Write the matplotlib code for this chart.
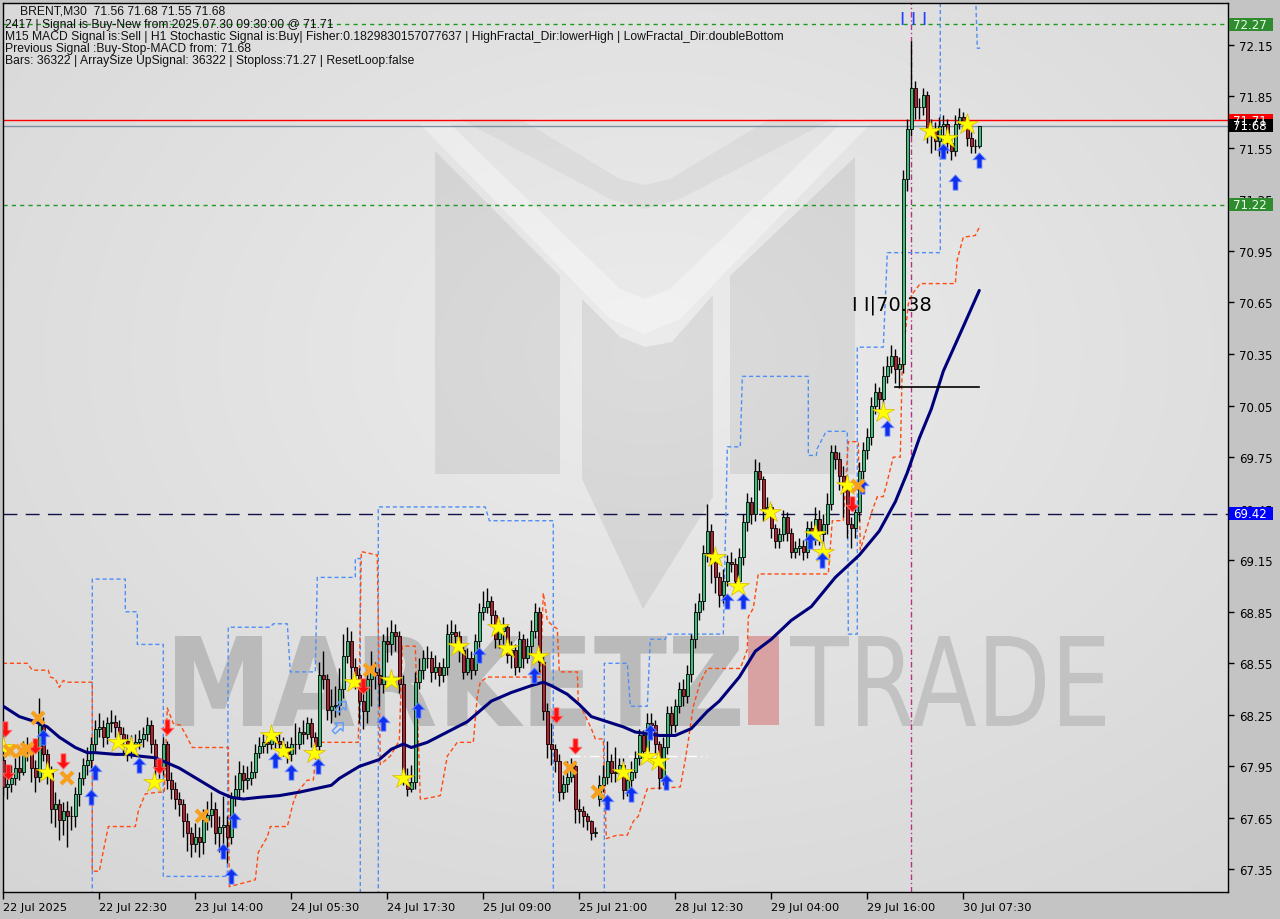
import numpy as np
import matplotlib
matplotlib.use('Agg')
import matplotlib.pyplot as plt
from matplotlib import transforms
from matplotlib.patches import Polygon, Rectangle, PathPatch
from matplotlib.path import Path
from matplotlib.textpath import TextPath
from matplotlib.font_manager import FontProperties

# ---------------- data (BRENT M30) ----------------
first_open = 67.99
gap_open = {149: 67.76}
closes = [
67.83, 67.85, 67.88, 67.94, 67.92, 68.05, 68.04, 67.94, 67.89, 68.19,
68.02, 67.91, 67.70, 67.73, 67.64, 67.69, 67.66, 67.66, 67.79, 67.88,
67.96, 67.99, 68.08, 68.17, 68.18, 68.12, 68.20, 68.21, 68.18, 68.14,
68.10, 68.06, 68.08, 68.09, 68.11, 68.14, 68.19, 68.08, 67.95, 67.94,
68.08, 67.87, 67.82, 67.76, 67.73, 67.63, 67.56, 67.50, 67.54, 67.51,
67.64, 67.67, 67.70, 67.56, 67.60, 67.61, 67.54, 67.77, 67.82, 67.91,
67.87, 67.88, 67.92, 68.03, 68.07, 68.09, 68.08, 68.12, 68.10, 68.08,
68.06, 68.02, 68.08, 68.08, 68.15, 68.14, 68.20, 68.12, 68.07, 68.48,
68.46, 68.28, 68.30, 68.31, 68.40, 68.59, 68.68, 68.53, 68.48, 68.33,
68.27, 68.46, 68.50, 68.48, 68.43, 68.68, 68.66, 68.73, 68.71, 68.43,
67.86, 67.82, 67.86, 68.44, 68.51, 68.58, 68.58, 68.50, 68.53, 68.48,
68.53, 68.72, 68.73, 68.71, 68.63, 68.50, 68.58, 68.51, 68.68, 68.85,
68.88, 68.91, 68.83, 68.69, 68.74, 68.76, 68.60, 68.63, 68.53, 68.69,
68.58, 68.65, 68.74, 68.85, 68.56, 68.27, 68.08, 68.05, 67.98, 67.80,
67.85, 67.89, 67.95, 67.70, 67.69, 67.66, 67.63, 67.56, 67.57, 67.84,
67.89, 67.98, 67.91, 67.92, 67.96, 67.81, 67.87, 67.92, 68.00, 68.13,
68.04, 68.20, 68.19, 68.08, 67.88, 68.06, 68.26, 68.19, 68.30, 68.40,
68.36, 68.49, 68.69, 68.85, 68.91, 69.19, 69.32, 69.14, 69.05, 68.95,
69.03, 69.14, 69.13, 69.03, 69.17, 69.37, 69.49, 69.42, 69.67, 69.62,
69.44, 69.46, 69.34, 69.26, 69.30, 69.40, 69.31, 69.20, 69.22, 69.23,
69.20, 69.34, 69.27, 69.39, 69.30, 69.36, 69.48, 69.78, 69.74, 69.64,
69.56, 69.36, 69.34, 69.43, 69.67, 69.79, 69.87, 70.05, 70.13, 70.09,
70.22, 70.28, 70.34, 70.26, 70.29, 71.37, 71.66, 71.90, 71.79, 71.79,
71.86, 71.63, 71.66, 71.59, 71.68, 71.69, 71.58, 71.53, 71.69, 71.73,
71.70, 71.61, 71.56, 71.56, 71.68]
highs = [
68.02, 67.95, 67.96, 68.00, 68.04, 68.10, 68.12, 68.06, 67.99, 68.35,
68.24, 68.05, 67.95, 67.80, 67.76, 67.74, 67.75, 67.72, 67.83, 67.92,
68.00, 68.06, 68.12, 68.22, 68.26, 68.22, 68.24, 68.28, 68.25, 68.22,
68.18, 68.14, 68.13, 68.14, 68.16, 68.18, 68.24, 68.22, 68.11, 68.00,
68.12, 68.10, 67.92, 67.86, 67.80, 67.76, 67.68, 67.60, 67.62, 67.60,
67.70, 67.75, 67.80, 67.74, 67.66, 67.78, 67.66, 67.80, 67.90, 67.98,
67.96, 67.95, 67.98, 68.08, 68.12, 68.14, 68.13, 68.16, 68.15, 68.14,
68.12, 68.10, 68.12, 68.20, 68.18, 68.22, 68.24, 68.23, 68.15, 68.56,
68.62, 68.49, 68.40, 68.42, 68.52, 68.72, 68.76, 68.74, 68.58, 68.52,
68.38, 68.52, 68.62, 68.56, 68.52, 68.72, 68.76, 68.80, 68.78, 68.74,
68.48, 67.94, 67.96, 68.50, 68.58, 68.63, 68.65, 68.62, 68.60, 68.56,
68.58, 68.78, 68.80, 68.78, 68.74, 68.66, 68.64, 68.62, 68.72, 68.90,
68.97, 68.99, 68.94, 68.86, 68.80, 68.82, 68.78, 68.68, 68.66, 68.74,
68.72, 68.70, 68.80, 68.90, 68.88, 68.60, 68.32, 68.20, 68.08, 68.02,
67.90, 67.98, 68.00, 67.98, 67.76, 67.72, 67.68, 67.64, 67.60, 67.90,
67.96, 68.10, 68.02, 68.06, 68.00, 68.00, 67.92, 67.98, 68.04, 68.17,
68.16, 68.26, 68.26, 68.22, 68.10, 68.12, 68.30, 68.30, 68.34, 68.44,
68.46, 68.54, 68.72, 68.90, 68.96, 69.24, 69.48, 69.36, 69.18, 69.08,
69.10, 69.18, 69.20, 69.16, 69.22, 69.42, 69.54, 69.52, 69.74, 69.72,
69.64, 69.52, 69.48, 69.36, 69.34, 69.44, 69.43, 69.34, 69.26, 69.28,
69.27, 69.38, 69.38, 69.46, 69.44, 69.42, 69.54, 69.82, 69.82, 69.78,
69.70, 69.60, 69.40, 69.48, 69.72, 69.84, 69.92, 70.10, 70.18, 70.16,
70.28, 70.34, 70.40, 70.38, 70.33, 71.42, 71.72, 72.17, 71.94, 71.84,
71.90, 71.88, 71.72, 71.70, 71.73, 71.74, 71.72, 71.62, 71.74, 71.78,
71.76, 71.72, 71.64, 71.60, 71.68]
lows = [
67.78, 67.76, 67.80, 67.84, 67.87, 67.90, 67.98, 67.86, 67.80, 67.86,
67.98, 67.85, 67.62, 67.60, 67.52, 67.55, 67.48, 67.58, 67.60, 67.72,
67.84, 67.90, 67.94, 68.04, 68.12, 68.06, 68.08, 68.15, 68.12, 68.08,
68.03, 67.98, 68.00, 68.02, 68.05, 68.06, 68.10, 68.03, 67.90, 67.88,
67.90, 67.82, 67.76, 67.70, 67.66, 67.54, 67.46, 67.42, 67.45, 67.42,
67.44, 67.58, 67.60, 67.50, 67.45, 67.50, 67.39, 67.50, 67.72, 67.76,
67.80, 67.82, 67.84, 67.88, 68.00, 68.03, 68.03, 68.05, 68.05, 68.04,
68.01, 67.97, 67.98, 68.02, 68.05, 68.08, 68.11, 68.06, 68.01, 68.04,
68.40, 68.22, 68.20, 68.24, 68.25, 68.35, 68.55, 68.45, 68.40, 68.20,
68.17, 68.20, 68.30, 68.40, 68.30, 68.38, 68.56, 68.60, 68.62, 68.38,
67.84, 67.78, 67.80, 67.82, 68.40, 68.46, 68.52, 68.44, 68.46, 68.42,
68.44, 68.48, 68.66, 68.64, 68.56, 68.46, 68.48, 68.46, 68.48, 68.64,
68.80, 68.84, 68.78, 68.64, 68.64, 68.66, 68.55, 68.52, 68.48, 68.50,
68.52, 68.55, 68.60, 68.70, 68.50, 68.22, 68.00, 67.96, 67.92, 67.75,
67.76, 67.80, 67.86, 67.62, 67.62, 67.60, 67.58, 67.52, 67.54, 67.72,
67.80, 67.85, 67.86, 67.86, 67.88, 67.76, 67.78, 67.80, 67.88, 67.96,
68.00, 68.00, 68.14, 68.02, 67.82, 67.84, 68.02, 68.14, 68.15, 68.26,
68.30, 68.32, 68.44, 68.64, 68.80, 68.86, 69.14, 69.02, 68.96, 68.88,
68.90, 69.00, 69.08, 68.98, 69.00, 69.12, 69.32, 69.36, 69.38, 69.56,
69.38, 69.40, 69.28, 69.22, 69.22, 69.26, 69.26, 69.16, 69.16, 69.18,
69.15, 69.16, 69.22, 69.24, 69.24, 69.18, 69.30, 69.44, 69.68, 69.56,
69.40, 69.28, 69.22, 69.28, 69.38, 69.62, 69.74, 69.82, 70.00, 70.02,
70.06, 70.18, 70.24, 70.18, 70.15, 70.24, 71.30, 71.62, 71.72, 71.72,
71.74, 71.58, 71.52, 71.54, 71.50, 71.58, 71.52, 71.48, 71.50, 71.66,
71.65, 71.56, 71.52, 71.52, 71.55]

# moving average (read points: bar index, price)
ma_bar = [0,4,8,11,14,18,21,23,28,31,34,38,39,41,44,49,54,57,60,64,69,74,78,82,84,89,94,97,100,102,
          106,111,116,119,122,127,132,135,137,141,144,147,151,155,158,161,164,168,172,176,179,184,188,192,
          197,202,208,214,219,223,226,229,232,235,240,244]
ma_val = [68.30,68.24,68.21,68.18,68.12,68.06,68.03,68.03,68.02,68.02,68.01,68.00,67.99,67.97,67.94,67.87,
          67.80,67.77,67.76,67.77,67.78,67.80,67.82,67.84,67.88,67.95,67.99,68.05,68.08,68.06,68.09,68.15,
          68.21,68.27,68.33,68.38,68.42,68.44,68.42,68.37,68.31,68.24,68.21,68.18,68.15,68.14,68.13,68.13,
          68.17,68.27,68.33,68.47,68.62,68.69,68.80,68.88,69.05,69.18,69.32,69.49,69.66,69.86,70.03,70.25,
          70.51,70.72]

nan = float('nan')
upper_bar = [22.25,22.25,30.5,30.5,33.5,33.5,40,40,56,56.25,66.75,67.5,71,71.75,78,78.5,88,88,89.25,89.25,nan,
             93.75,93.75,120.5,121.5,137.5,137.5,nan,
             150.25,150.25,156,156.75,161,161.75,165.5,166,180,181,184.25,184.75,201.25,201.25,203.25,203.5,
             205.5,206,211,211.25,213.5,213.5,220,221,234.25,234.25,nan,
             243.0,243.5,244.2]
upper_val = [67.2,69.04,69.04,68.85,68.85,68.66,68.66,67.31,67.31,68.76,68.76,68.78,68.78,68.50,68.50,69.05,69.05,69.16,69.16,67.2,nan,
             67.2,69.46,69.46,69.38,69.38,67.2,nan,
             67.2,68.55,68.55,68.30,68.30,68.69,68.69,68.72,68.72,69.81,69.81,70.22,70.22,69.76,69.76,69.80,
             69.89,69.90,69.90,68.72,68.72,70.39,70.39,70.94,70.94,72.5,nan,
             72.5,72.13,72.13]

lower_bar = [-0.1,6,7.25,11.25,11.75,13,14,15,16,22.25,22.25,24,24.5,26.25,33,33.75,35.5,38.75,40.25,41,
             42.5,44.25,45.5,47.25,56.25,56.5,63,63.75,66,66.75,71,72.5,73.5,76,77.5,78.5,88.75,89.5,93.5,94.25,
             96.75,99,99.75,103,104.25,105,109.25,111,113.5,117.5,118.5,119.25,121,134.25,135,136,137.25,138.5,139,143.5,
             143.75,147,148,150,150.75,153.5,156,157.5,158.75,160,161,169.25,170.5,171.25,172.5,174.25,176,184.25,186,186.25,
             187.5,188.75,206.25,207.25,210,211.25,213.75,214.25,215.5,217.25,218.5,220,221,222.5,224.25,224.75,226.25,227.25,
             229.25,238,238.5,240,243,244.25]
lower_val = [68.55,68.55,68.51,68.51,68.47,68.46,68.41,68.45,68.44,68.44,67.34,67.34,67.40,67.60,67.60,67.69,67.79,67.80,67.80,68.29,
             68.20,68.19,68.14,68.06,68.06,67.25,67.29,67.45,67.54,67.60,67.60,67.74,67.80,67.87,67.87,68.09,68.09,69.20,69.18,67.96,
             68.01,68.10,68.65,68.65,67.76,67.76,67.78,68.01,68.09,68.09,68.36,68.44,68.47,68.47,68.96,68.80,68.77,68.75,68.50,68.50,
             68.33,68.17,68.11,68.11,67.53,67.55,67.55,67.63,67.66,67.75,67.82,67.83,67.99,68.10,68.30,68.44,68.52,68.52,68.63,68.82,
             68.87,69.07,69.07,69.38,69.38,69.84,69.84,69.21,69.31,69.44,69.52,69.52,69.61,69.75,69.75,70.30,70.64,70.70,
             70.76,70.76,70.90,71.03,71.04,71.10]

# signal markers (bar index, price)
star_bar = [0,10.9,28.7,31.9,37.7,66.9,69.9,77.7,87.7,96.9,99.9,113.7,123.7,125.9,133.7,154.9,160.9,163.7,
            177.9,183.7,191.7,202.9,204.9,210.9,219.9,231.7,235.9,240.9]
star_val = [68.06,67.92,68.09,68.06,67.86,68.13,68.04,68.03,68.44,68.45,67.88,68.65,68.76,68.64,68.59,67.92,68.01,67.98,
            69.17,69.00,69.43,69.30,69.20,69.59,70.01,71.65,71.61,71.69]
buy_bar = [9.9,22.9,21.9,33.9,54.9,57.7,56.9,67.9,71.9,78.7,94.9,103.7,118.9,132.7,150.9,156.9,161.7,165.7,
           180.9,184.9,201.7,204.7,214.7,220.9,234.9,237.9,243.9]
buy_val = [68.12,67.92,67.77,67.96,67.46,67.64,67.31,67.99,67.92,67.95,68.20,68.28,68.60,68.48,67.74,67.79,68.15,67.86,
           68.91,68.91,69.26,69.15,69.58,69.92,71.53,71.35,71.48]
sell_bar = [0.4,1.2,7.9,14.9,38.9,40.9,89.9,138.2,142.9,212.2]
sell_val = [68.17,67.92,68.07,67.98,67.95,68.18,68.42,68.25,68.07,69.48]
cross_bar = [1.7,4.7,5.9,8.7,15.9,49.7,91.7,141.7,148.7,213.7]
cross_val = [68.04,68.04,68.05,68.23,67.88,67.66,68.51,67.94,67.80,69.58]
hollow_bar = [84.4,83.7]
hollow_val = [68.30,68.18]

# levels
tp_level, sl_level = 72.27, 71.22
signal_level, bid_level, base_level = 71.71, 71.68, 69.42
entry_level = 70.16
signal_bar = 227

y_ticks = [67.35, 67.65, 67.95, 68.25, 68.55, 68.85, 69.15, 69.45, 69.75, 70.05, 70.35, 70.65, 70.95, 71.25, 71.55, 71.85, 72.15]
x_tick_bars = [0, 24, 48, 72, 96, 120, 144, 168, 192, 216, 240]
x_tick_labels = ['22 Jul 2025', '22 Jul 22:30', '23 Jul 14:00', '24 Jul 05:30', '24 Jul 17:30', '25 Jul 09:00',
                 '25 Jul 21:00', '28 Jul 12:30', '29 Jul 04:00', '29 Jul 16:00', '30 Jul 07:30']

header = ['BRENT,M30  71.56 71.68 71.55 71.68',
          '2417 | Signal is Buy-New from:2025.07.30 09:30:00 @ 71.71',
          'M15 MACD Signal is:Sell | H1 Stochastic Signal is:Buy| Fisher:0.1829830157077637 | HighFractal_Dir:lowerHigh | LowFractal_Dir:doubleBottom',
          'Previous Signal :Buy-Stop-MACD from: 71.68',
          'Bars: 36322 | ArraySize UpSignal: 36322 | Stoploss:71.27 | ResetLoop:false']

# ---------------- figure ----------------
plt.rcParams['font.family'] = ['DejaVu Sans']
W, H = 1280, 920
fig = plt.figure(figsize=(12.8, 9.2), dpi=100, facecolor='#c4c4c4')
L_, R_, T_, B_ = 3, 1228, 4, 893
ax = fig.add_axes([L_ / W, 1 - B_ / H, (R_ - L_) / W, (B_ - T_) / H])
PX = transforms.Affine2D().scale(1 / W, -1 / H).translate(0, 1) + fig.transFigure

XMIN, XMAX = -0.075, 306.175
YMIN, YMAX = 67.219, 72.393

# background gradient
gy, gx = np.mgrid[0:90, 0:122]
d = np.sqrt(((gx - 64) / 122.0) ** 2 + ((gy - 35) / 90.0) ** 2)
g = 0.925 - 0.11 * d
bg = np.dstack([g, g, g])
ax.imshow(bg, extent=(XMIN, XMAX, YMIN, YMAX), aspect='auto', zorder=0, interpolation='bilinear')

# watermark logo (subtle)
def add_px_poly(pts, color, alpha, z=0.5):
    ax.add_patch(Polygon(pts, closed=True, transform=PX, fc=color, alpha=alpha, ec='none', zorder=z))

add_px_poly([(435, 152), (560, 277), (560, 475), (435, 475)], 'black', 0.065)
add_px_poly([(855, 158), (730, 277), (730, 475), (855, 475)], 'black', 0.065)
add_px_poly([(582, 300), (620, 338), (645, 348), (672, 343), (713, 296), (713, 498), (643, 610), (582, 480)], 'black', 0.065)
add_px_poly([(460, 120), (520, 120), (620, 180), (645, 186), (670, 180), (770, 120), (833, 120),
             (680, 200), (645, 210), (610, 200)], 'black', 0.04)
add_px_poly([(420, 125), (450, 125), (620, 290), (645, 300), (670, 290), (840, 125), (870, 125),
             (680, 320), (645, 335), (610, 320)], 'white', 0.35)

def text_in_box(s, x0, x1, y0, y1, color, weight='bold', z=0.6):
    tp = TextPath((0, 0), s, size=100, prop=FontProperties(family='DejaVu Sans', weight=weight))
    ext = tp.get_extents()
    tr = (transforms.Affine2D().translate(-ext.x0, -ext.y0)
          .scale((x1 - x0) / ext.width, -(y1 - y0) / ext.height).translate(x0, y1) + PX)
    ax.add_patch(PathPatch(tp, transform=tr, fc=color, ec='none', zorder=z))

text_in_box('MARKETZ', 175, 740, 637, 727, '#bababa')
add_px_poly([(748, 637), (779, 637), (779, 726), (748, 726)], '#d9a2a2', 1.0)
text_in_box('TRADE', 790, 1105, 637, 727, '#c2c2c2', weight='normal')

# channel lines
ax.plot(upper_bar, upper_val, color='#4f8ff5', lw=1, dashes=(3, 2), zorder=2.5)
ax.plot(lower_bar, lower_val, color='#ff4a10', lw=1, dashes=(3, 2), zorder=2.5)
ax.plot([141.7, 176], [68.01, 68.01], color='white', lw=1, dashes=(7, 3, 1, 3), zorder=2.5)

# candles
c = np.array(closes)
o = np.r_[first_open, c[:-1]]
for k, v in gap_open.items():
    o[k] = v
hi = np.array(highs)
lo = np.array(lows)
idx = np.arange(len(c))
up = c >= o
ax.vlines(idx, lo, hi, color='black', lw=1, zorder=3)
ax.bar(idx[up], (c - o)[up], bottom=o[up], width=0.72, color='#3cbf7a', edgecolor='black', linewidth=0.6, zorder=4)
ax.bar(idx[~up], (c - o)[~up], bottom=o[~up], width=0.72, color='#b5202e', edgecolor='black', linewidth=0.6, zorder=4)

# moving average
ax.plot(ma_bar, ma_val, color='#00007a', lw=2.2, zorder=5, solid_capstyle='round')

# levels
ax.axhline(tp_level, color='#1f9a1f', lw=1, dashes=(3, 3), zorder=2)
ax.axhline(sl_level, color='#1f9a1f', lw=1, dashes=(3, 3), zorder=2)
ax.axhline(signal_level, color='#ff0000', lw=1, zorder=2)
ax.axhline(bid_level, color='#8090a0', lw=1, zorder=2)
ax.axhline(base_level, color='#10104a', lw=1, dashes=(10, 6), zorder=2)
ax.axvline(signal_bar, color='#b8308a', lw=1, dashes=(4, 2, 1, 2), zorder=2)
ax.plot([223, 244], [entry_level, entry_level], color='black', lw=1.2, zorder=5)
ax.text(212.2, 70.64, 'I I|70.38', fontsize=14, color='black', va='center', ha='left', zorder=6)
ax.text(224.3, 72.30, 'I I I', fontsize=13, color='#2040ff', va='center', ha='left', zorder=6)

# markers
up_arrow = Path([(0, 1), (0.85, 0.1), (0.32, 0.1), (0.32, -1), (-0.32, -1), (-0.32, 0.1), (-0.85, 0.1), (0, 1)], closed=True)
down_arrow = Path([(0, -1), (0.85, -0.1), (0.32, -0.1), (0.32, 1), (-0.32, 1), (-0.32, -0.1), (-0.85, -0.1), (0, -1)], closed=True)
diag = up_arrow.transformed(transforms.Affine2D().rotate_deg(-45))
ax.plot(star_bar, star_val, ls='none', marker='*', ms=16, mfc='#ffff00', mec='#d8b800', mew=0.5, zorder=7)
ax.plot(buy_bar, buy_val, ls='none', marker=up_arrow, ms=11, mfc='#1030f0', mec='#6f8cff', mew=0.6, zorder=7)
ax.plot(sell_bar, sell_val, ls='none', marker=down_arrow, ms=11, mfc='#ff1010', mec='#ff7070', mew=0.6, zorder=7)
ax.plot(cross_bar, cross_val, ls='none', marker='x', ms=9, mec='#f7a020', mew=3, zorder=7)
ax.plot(hollow_bar, hollow_val, ls='none', marker=diag, ms=9, mfc='none', mec='#5b9bff', mew=1, zorder=7)

# axes formatting
ax.set_xlim(XMIN, XMAX)
ax.set_ylim(YMIN, YMAX)
ax.yaxis.tick_right()
ax.set_yticks(y_ticks)
ax.set_yticklabels(['%.2f' % v for v in y_ticks])
ax.tick_params(axis='y', direction='out', length=4, width=1, colors='black', labelsize=8.5, pad=4)
ax.set_xticks(x_tick_bars)
ax.set_xticklabels(x_tick_labels)
ax.tick_params(axis='x', direction='out', length=5, width=1, colors='black', labelsize=8.2, pad=2)
for lab in ax.get_xticklabels():
    lab.set_ha('left')
for sp in ax.spines.values():
    sp.set_color('black')
    sp.set_linewidth(1)

# right price boxes
bt = transforms.blended_transform_factory(PX, ax.transData)
hbox = 13 / 171.8
def price_box(level, fc, tc):
    ax.add_patch(Rectangle((1229, level - hbox / 2), 44, hbox, transform=bt, fc=fc, ec='none', clip_on=False, zorder=20))
    ax.text(1233, level, '%.2f' % level, transform=bt, fontsize=8.5, color=tc, va='center', ha='left',
            clip_on=False, zorder=21)

price_box(tp_level, '#2e8b2e', '#e8ffe8')
price_box(signal_level, '#ff0000', '#ffffff')
price_box(bid_level, '#000000', '#ffffff')
price_box(sl_level, '#2e8b2e', '#e8ffe8')
price_box(base_level, '#0000ff', '#ffffff')

# header text
hx = [20, 5, 5, 5, 5]
hy = [12, 25, 37, 49, 61]
for s, x, y in zip(header, hx, hy):
    fig.text(x, y, s, transform=PX, fontsize=8.7, family='Liberation Sans', color='#111111', va='center', ha='left')

fig.savefig('out.png', dpi=100, facecolor=fig.get_facecolor())
